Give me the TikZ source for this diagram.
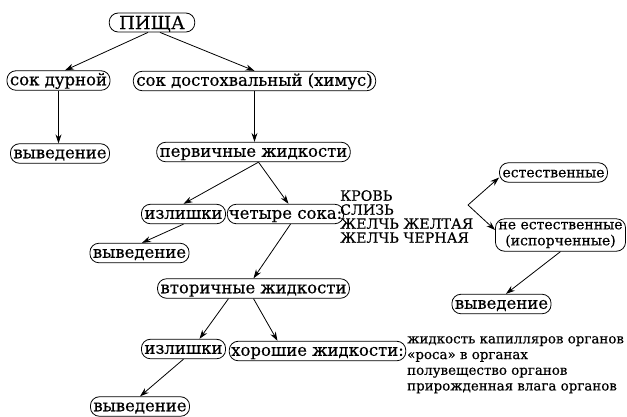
\documentclass[tikz,border=0pt]{standalone}
\usepackage{fontspec}
\setmainfont{DejaVu Serif}[BoldFont={DejaVu Serif},BoldFeatures={FakeBold=0.4}]
\usetikzlibrary{arrows.meta}
\tikzset{
  box/.style={draw,line width=0.8pt,rounded corners=9pt,inner xsep=3pt,inner ysep=2pt,
    text height=12.5pt,text depth=3pt,font=\fontsize{16.5}{18}\selectfont\bfseries},
  caps/.style={align=left,inner sep=0pt,font=\fontsize{14.2}{14}\selectfont\bfseries},
  list/.style={align=left,inner sep=0pt,font=\fontsize{13.4}{15.7}\selectfont\bfseries},
  arr/.style={-{Stealth[length=9pt,width=6pt]},line width=0.8pt}
}
\begin{document}
\begin{tikzpicture}[x=1pt,y=-1pt]
\useasboundingbox (0,0) rectangle (627,416);
% top level
\node[box,inner xsep=10pt,text height=13pt,text depth=0pt,inner ysep=3pt,font=\fontsize{18}{18}\selectfont\bfseries] (pisha) at (152,22.5) {ПИЩА};
\node[box] (durn) at (58.5,80.5) {сок дурной};
\node[box] (himus) at (254.5,81) {сок достохвальный (химус)};
\node[box] (vyv1) at (60,153.5) {выведение};
\node[box] (perv) at (253.5,152) {первичные жидкости};
% primary fluids
\node[box] (izl1) at (183.5,214) {излишки};
\node[box,inner xsep=1.5pt] (chet) at (285.5,214) {четыре сока:};
\node[box] (vyv2) at (139.5,253) {выведение};
\node[caps,anchor=north west] (soki) at (340,190) {КРОВЬ\\СЛИЗЬ\\ЖЕЛЧЬ ЖЕЛТАЯ\\ЖЕЛЧЬ ЧЕРНАЯ};
\coordinate (razv) at (468,205);
\node[box,font=\fontsize{14}{16}\selectfont\bfseries] (est) at (553.5,172.5) {естественные};
\node[box,align=center,text height=,text depth=,inner ysep=3pt,font=\fontsize{14}{16}\selectfont\bfseries] (neest) at (560.5,235) {не естественные\\(испорченные)};
\node[box] (vyv3) at (501.5,304) {выведение};
% secondary fluids
\node[box] (vtor) at (253.5,288.5) {вторичные жидкости};
\node[box] (izl2) at (183.5,349) {излишки};
\node[box,inner xsep=2pt] (hor) at (317.5,351) {хорошие жидкости:};
\node[box] (vyv4) at (140,406.5) {выведение};
\node[list,anchor=north west] (organy) at (407,336) {жидкость капилляров органов\\«роса» в органах\\полувещество органов\\прирожденная влага органов};

\draw[arr] ([xshift=-4pt]pisha.south) -- ([xshift=6.5pt]durn.north);
\draw[arr] ([xshift=8pt]pisha.south) -- (himus.north);
\draw[arr] (durn.south) -- (durn.south |- vyv1.north);
\draw[arr] (himus.south) -- (himus.south |- perv.north);
\draw[arr] ([xshift=5pt]perv.south) -- (izl1.north);
\draw[arr] ([xshift=5pt]perv.south) -- ([xshift=3pt]chet.north);
\draw[arr] (izl1.south) -- ([xshift=2.5pt]vyv2.north);
\draw[arr] ([xshift=5pt]chet.south) -- (vtor.north);
\draw[arr] ([xshift=-25pt]vtor.south) -- ([xshift=16pt]izl2.north);
\draw[arr] (vtor.south) -- ([xshift=-40pt]hor.north);
\draw[arr] (izl2.south) -- (vyv4.north);
\draw[arr] (razv) -- ([yshift=-5pt]est.west);
\draw[arr] (razv) -- ([yshift=5pt]neest.west);
\draw[arr] (neest.south) -- ([xshift=4.5pt]vyv3.north);
\end{tikzpicture}
\end{document}
